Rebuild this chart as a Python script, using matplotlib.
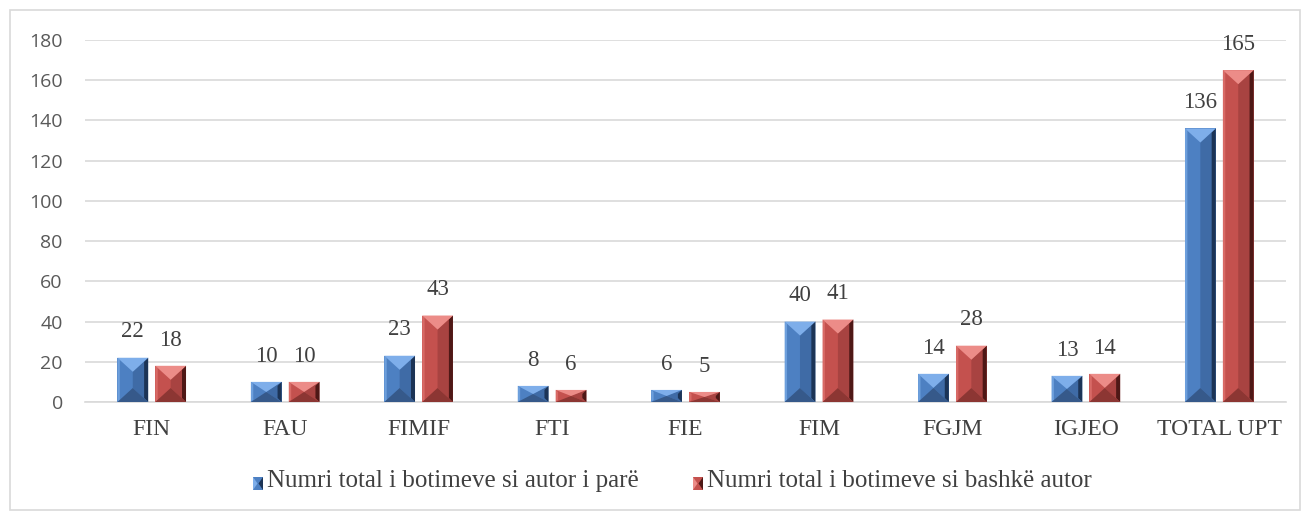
import matplotlib.pyplot as plt
from matplotlib.patches import Polygon, Rectangle
import numpy as np

categories = ['FIN', 'FAU', 'FIMIF', 'FTI', 'FIE', 'FIM', 'FGJM', 'IGJEO', 'TOTAL UPT']
first_author = [22, 10, 23, 8, 6, 40, 14, 13, 136]
co_author = [18, 10, 43, 6, 5, 41, 28, 14, 165]
series_names = ['Numri total i botimeve si autor i parë', 'Numri total i botimeve si bashkë autor']

# face, top, left edge, right edge, bottom, right half
blue_shades = ['#4d80c2', '#7eaeea', '#6d9fdc', '#1c3456', '#36598a', '#3f6ba6']
red_shades = ['#c4514e', '#ec8c88', '#d86a66', '#4e1816', '#8c3633', '#a84341']

fig = plt.figure(figsize=(13.04, 5.12), dpi=100)
fig.patches.append(Rectangle((10 / 1304, 2 / 512), 1290 / 1304, 500 / 512, transform=fig.transFigure,
                             fill=False, edgecolor='#d9d9d9', linewidth=1.2))
ax = fig.add_axes([85 / 1304, (512 - 402) / 512, (1286 - 85) / 1304, 362 / 512])

x = np.arange(len(categories))
w = 0.23
off = 0.142
ax.set_xlim(-0.5, len(categories) - 0.5)
ax.set_ylim(0, 180)

px_x = len(categories) / 1201  # data units per pixel
px_y = 180 / 362


def bevel_bar(xs, vals, shades):
    bars = ax.bar(xs, vals, width=w, color=shades[0], zorder=3)
    for b in bars:
        x0, y0 = b.get_x(), b.get_y()
        bw, bh = b.get_width(), b.get_height()
        x1, y1 = x0 + bw, y0 + bh
        xc = x0 + bw / 2
        dy = min(14 * px_y, bh / 2)
        e = 4 * px_x
        polys = [
            ([(xc, y0 + dy), (xc, y1 - dy), (x1, y1), (x1, y0)], shades[5]),
            ([(x1 - e, y0 + 4 * px_y), (x1 - e, y1 - 4 * px_y), (x1, y1), (x1, y0)], shades[3]),
            ([(x0, y0), (x0, y1), (x0 + e * 0.6, y1 - 2 * px_y), (x0 + e * 0.6, y0 + 2 * px_y)], shades[2]),
            ([(x0, y1), (x1, y1), (xc, y1 - dy)], shades[1]),
            ([(x0, y0), (x1, y0), (xc, y0 + dy)], shades[4]),
        ]
        for pts, c in polys:
            ax.add_patch(Polygon(pts, closed=True, facecolor=c, edgecolor='none', zorder=4))
        ax.annotate(str(int(bh)), (xc, y1), xytext=(0, 11), textcoords='offset points',
                    ha='center', va='bottom', fontsize=16.5, family='Liberation Serif',
                    color='#404040', zorder=5)
    return bars


bevel_bar(x - off, first_author, blue_shades)
bevel_bar(x + off, co_author, red_shades)

ax.set_yticks(np.arange(0, 181, 20))
ax.yaxis.grid(True, color='#d9d9d9', linewidth=1.2, zorder=0)
ax.set_axisbelow(True)
for s in ['top', 'right', 'left']:
    ax.spines[s].set_visible(False)
ax.spines['bottom'].set_color('#d9d9d9')
ax.spines['bottom'].set_linewidth(1.2)
ax.tick_params(axis='both', length=0)
ax.tick_params(axis='y', pad=16, labelsize=14, labelcolor='#595959')
ax.set_yticklabels([str(v) for v in range(0, 181, 20)], family='Open Sans')
ax.set_xticks(x)
ax.set_xticklabels(categories, family='Liberation Serif', fontsize=17, color='#404040')
ax.tick_params(axis='x', pad=12)

# legend
for px, name, sh in [(253, series_names[0], blue_shades), (693, series_names[1], red_shades)]:
    fx, fy = px / 1304, 1 - 490 / 512
    fw, fh = 10 / 1304, 13 / 512
    fig.patches.append(Rectangle((fx, fy), fw, fh, transform=fig.transFigure,
                                 facecolor=sh[0], edgecolor='none'))
    fig.patches.append(Polygon([(fx, fy), (fx, fy + fh), (fx + 0.45 * fw, fy + 0.5 * fh)],
                               closed=True, transform=fig.transFigure, facecolor=sh[1], edgecolor='none'))
    fig.patches.append(Polygon([(fx + fw, fy), (fx + fw, fy + fh), (fx + 0.55 * fw, fy + 0.5 * fh)],
                               closed=True, transform=fig.transFigure, facecolor=sh[3], edgecolor='none'))
    fig.text(fx + fw + 4 / 1304, 1 - 481 / 512, name, va='center', ha='left',
             fontsize=18, family='Liberation Serif', color='#404040')

fig.savefig('out.png', dpi=100)
